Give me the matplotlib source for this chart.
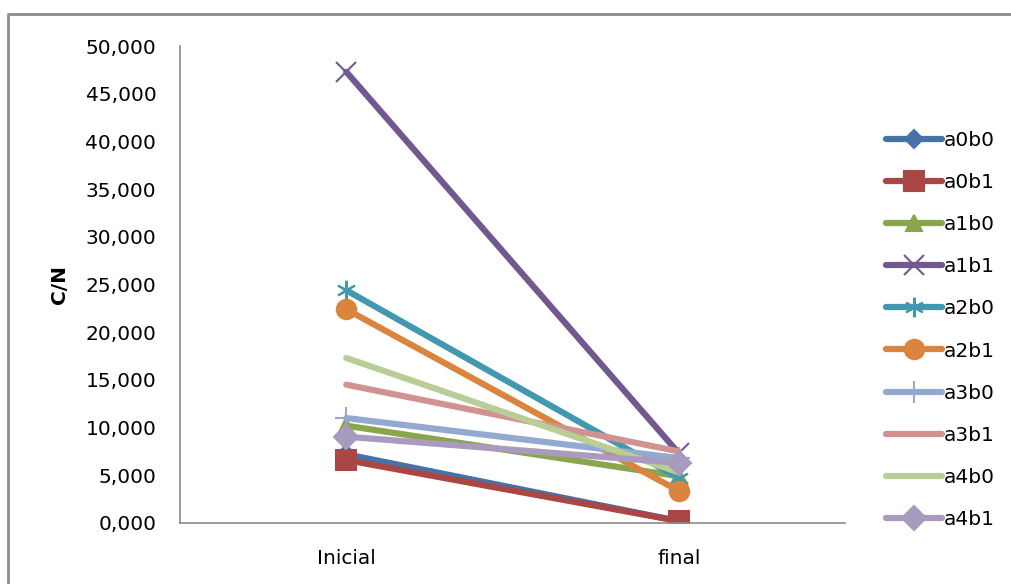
import matplotlib.pyplot as plt
from matplotlib.lines import Line2D
from matplotlib.ticker import FuncFormatter

categories = ["Inicial", "final"]
series = ["a0b0", "a0b1", "a1b0", "a1b1", "a2b0", "a2b1", "a3b0", "a3b1", "a4b0", "a4b1"]
a0b0 = [7.2, 0.2]
a0b1 = [6.6, 0.2]
a1b0 = [10.2, 4.9]
a1b1 = [47.3, 7.3]
a2b0 = [24.4, 4.7]
a2b1 = [22.4, 3.35]
a3b0 = [11.0, 6.8]
a3b1 = [14.5, 7.5]
a4b0 = [17.3, 5.3]
a4b1 = [9.05, 6.3]
values = [a0b0, a0b1, a1b0, a1b1, a2b0, a2b1, a3b0, a3b1, a4b0, a4b1]

colors = ["#4572A7", "#AA4643", "#89A54E", "#71588F", "#4198AF",
          "#DB843D", "#93A9CF", "#D19392", "#B9CD96", "#A99BBD"]
markers = ["D", "s", "^", "x", (6, 2, 0), "o", "+", None, None, "D"]
msizes = [9, 14, 12, 14, 14, 14, 16, 0, 0, 12]

plt.rcParams['font.family'] = ['DejaVu Sans']

fig = plt.figure(figsize=(10.11, 5.84), dpi=100)
ax = fig.add_axes([0.178, 0.1045, 0.658, 0.8166])

x = range(len(categories))
for name, vals, c, m, ms in zip(series, values, colors, markers, msizes):
    ax.plot(x, vals, color=c, lw=4.5, marker=m, markersize=ms,
            markeredgewidth=1.5, markeredgecolor=c, markerfacecolor=c,
            solid_capstyle='round', label=name)

ax.set_xlim(-0.5, 1.5)
ax.set_ylim(0, 50)
ax.set_yticks(range(0, 51, 5))
ax.yaxis.set_major_formatter(FuncFormatter(lambda v, p: f"{v:.3f}".replace(".", ",")))
ax.set_xticks(list(x))
ax.set_xticklabels(categories)
ax.tick_params(axis='y', labelsize=14.5, length=0, pad=17)
ax.tick_params(axis='x', labelsize=14.5, length=0, pad=19)
ax.set_ylabel("C/N", fontsize=14.5, fontweight='bold', labelpad=12)

for s in ["top", "right"]:
    ax.spines[s].set_visible(False)
for s in ["left", "bottom"]:
    ax.spines[s].set_color("#8c8c8c")
    ax.spines[s].set_linewidth(1.2)

ax.legend(loc='center left', bbox_to_anchor=(0.868, 0.435), bbox_transform=fig.transFigure,
          frameon=False, fontsize=14.5, labelspacing=1.15, handlelength=2.8,
          handletextpad=0.1, borderaxespad=0)

# outer chart frame: only top and left edges are visible in the crop
fig.add_artist(Line2D([8 / 1011, 8 / 1011, 1.0], [0.0, 1 - 14 / 584, 1 - 14 / 584],
                      transform=fig.transFigure, color="#8c8c8c", lw=2))

fig.savefig("out.png", dpi=100)
